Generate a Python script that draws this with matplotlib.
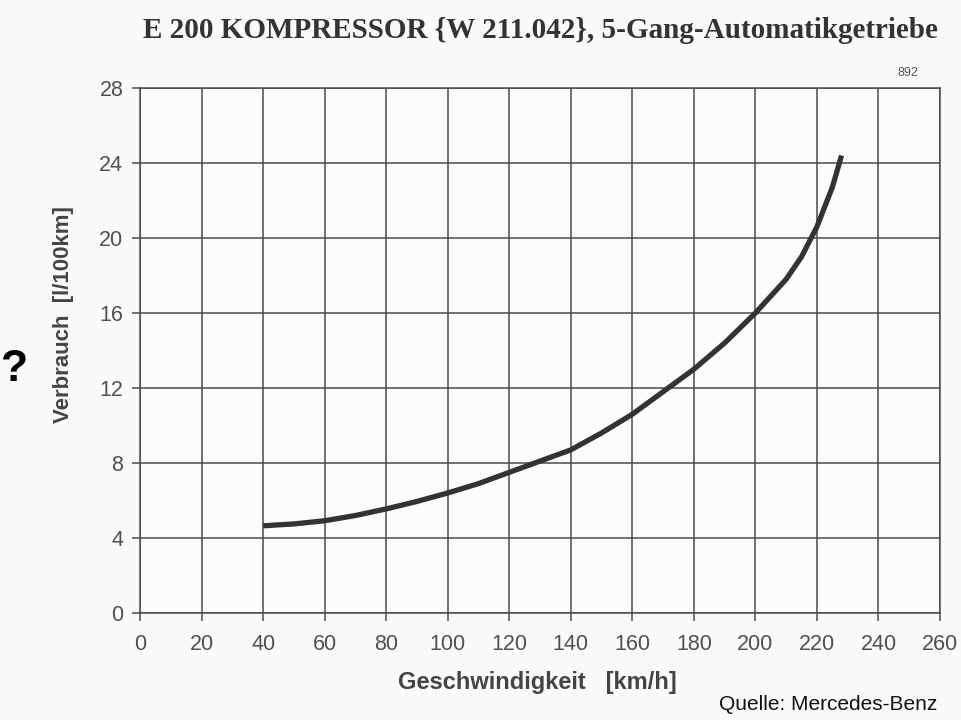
import matplotlib
matplotlib.use("Agg")
import matplotlib.pyplot as plt
import numpy as np

# Data
speed = [40, 50, 60, 70, 80, 90, 100, 110, 120, 130, 140, 150, 160, 170, 180,
         190, 200, 210, 215, 220, 225, 228]
consumption = [4.65, 4.75, 4.92, 5.2, 5.55, 5.95, 6.4, 6.9, 7.5, 8.1, 8.7, 9.6,
               10.6, 11.8, 13.0, 14.4, 16.0, 17.8, 19.0, 20.6, 22.7, 24.4]
x_ticks = list(range(0, 261, 20))
y_ticks = list(range(0, 29, 4))

title = "E 200 KOMPRESSOR {W 211.042}, 5-Gang-Automatikgetriebe"
xlabel = "Geschwindigkeit   [km/h]"
ylabel = "Verbrauch  [l/100km]"
source = "Quelle: Mercedes-Benz"

grid_col = "#4a4a4a"
text_col = "#505050"

fig = plt.figure(figsize=(9.61, 7.2), dpi=100, facecolor="#fafafa")
ax = fig.add_axes([140/961, 1-613/720, 800/961, 525/720])
ax.set_facecolor("#fcfcfc")

ax.plot(speed, consumption, color="#333333", lw=3.8, solid_capstyle="butt",
        solid_joinstyle="round", zorder=3)

ax.set_xlim(0, 260)
ax.set_ylim(0, 28)
ax.set_xticks(x_ticks)
ax.set_yticks(y_ticks)
ax.grid(True, color=grid_col, lw=1.1)
for s in ax.spines.values():
    s.set_color(grid_col)
    s.set_linewidth(1.1)
ax.tick_params(axis="both", direction="out", length=6, width=1.1, color=grid_col,
               labelcolor=text_col, labelsize=15.5)
ax.tick_params(axis="x", pad=9)
ax.tick_params(axis="y", pad=6)
for lab in ax.get_xticklabels() + ax.get_yticklabels():
    lab.set_fontfamily("Liberation Sans")

fig.text(540/961, 1-31/720, title, ha="center", va="center", fontsize=21,
         family="Liberation Serif", fontweight="bold", color="#333333")
fig.text(537/961, 1-683/720, xlabel, ha="center", va="center", fontsize=17,
         family="Liberation Sans", fontweight="bold", color="#444444")
fig.text(63/961, 1-315/720, ylabel, ha="center", va="center", fontsize=16,
         rotation=90, family="Liberation Sans", fontweight="bold", color="#444444")
fig.text(908/961, 1-73/720, "892", ha="center", va="center", fontsize=9,
         family="Liberation Sans", color="#555555")
fig.text(937/961, 1-705/720, source, ha="right", va="center", fontsize=15,
         family="Liberation Sans", color="#111111")
fig.text(1/961, 1-370/720, "?", ha="left", va="center", fontsize=32,
         family="Liberation Sans", fontweight="bold", color="#000000")

fig.savefig("out.png", dpi=100, facecolor=fig.get_facecolor())
